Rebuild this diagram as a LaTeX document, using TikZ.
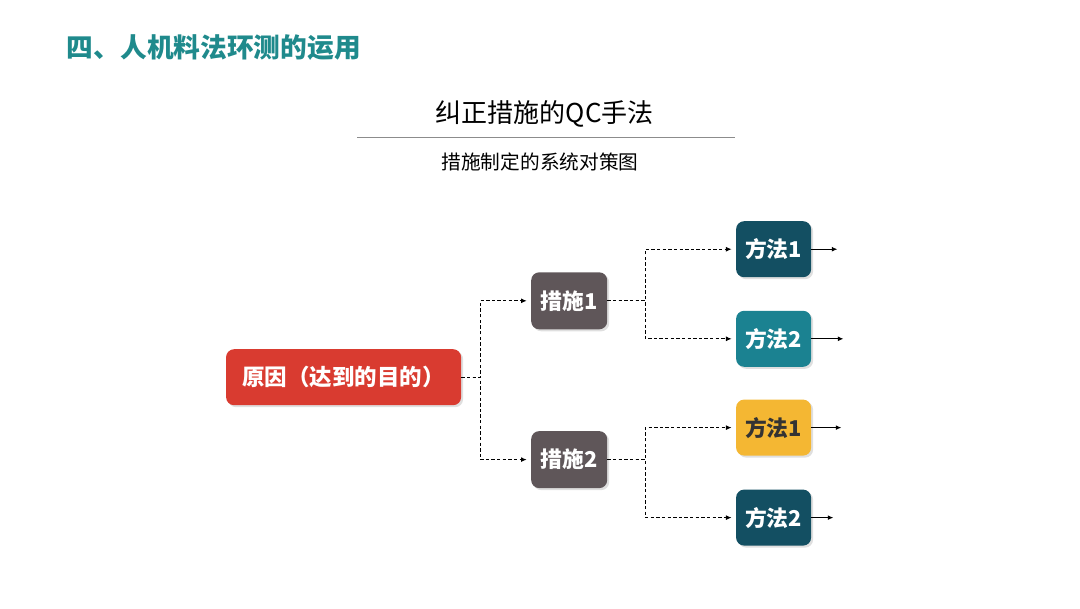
\documentclass[tikz,border=0pt]{standalone}
\usepackage{fontspec}
\setmainfont{Noto Sans CJK SC}
\usetikzlibrary{positioning,arrows.meta,shadows}
\definecolor{headteal}{HTML}{1F8A8C}
\definecolor{causered}{HTML}{D93B30}
\definecolor{stepgray}{HTML}{5F5659}
\definecolor{deepteal}{HTML}{134F62}
\definecolor{midteal}{HTML}{1B8291}
\definecolor{warmyellow}{HTML}{F4B733}
\def\fs#1{\fontsize{#1}{#1}\selectfont}

\begin{document}
\begin{tikzpicture}[on grid,auto,
  box/.style={rounded corners=0.2cm,minimum height=1.4cm,text=white,inner sep=0pt,
    drop shadow={opacity=0.25,shadow xshift=0.05cm,shadow yshift=-0.05cm}},
  cause/.style={box,fill=causered,minimum width=5.875cm,font=\fs{16}\bfseries},
  measure/.style={box,fill=stepgray,minimum width=1.9cm,minimum height=1.425cm,font=\fs{15.5}\bfseries},
  method/.style={box,minimum width=1.875cm,font=\fs{15.5}\bfseries},
  conn/.style={dashed,dash pattern=on 2.4pt off 1.6pt,line width=0.7pt,-{Latex[length=4pt,width=3.5pt]},shorten >=3pt},
  fork/.style={to path={-- ++(#1,0) |- (\tikztotarget)}},
  outarrow/.style={solid,line width=0.7pt,-{Latex[length=4pt,width=3.5pt]},shorten >=0pt}]
\useasboundingbox (0,0) rectangle (27,-15.2);

% headings
\node[anchor=west,text=headteal,font=\fs{19}\bfseries] (head) at (1.55,-1.2) {四、人机料法环测的运用};
\node[font=\fs{18.5}] (qc) at (13.62,-2.85) {纠正措施的QC手法};
\coordinate (ruleL) at (8.93,-3.43);
\coordinate (ruleR) at (18.38,-3.43);
\draw[gray!90,line width=1pt] (ruleL) -- (ruleR);
\node[font=\fs{14}] (sub) at (13.5,-4.05) {措施制定的系统对策图};

% tree
\node[cause]                     (yuan)                                  at (8.59,-9.43) {原因（达到的目的）};
\node[measure]                   (cs1)  [above right=1.91cm and 5.64cm of yuan] {措施1};
\node[measure]                   (cs2)  [below right=2.06cm and 5.64cm of yuan] {措施2};
\node[method,fill=deepteal]      (fa11) [above right=1.29cm and 5.11cm of cs1]  {方法1};
\node[method,fill=midteal]       (fa12) [below right=0.95cm and 5.11cm of cs1]  {方法2};
\node[method,fill=warmyellow,text=black!80] (fa21) [above right=0.8cm and 5.11cm of cs2] {方法1};
\node[method,fill=deepteal]      (fa22) [below right=1.45cm and 5.11cm of cs2]  {方法2};

\coordinate (o11) at ([xshift=0.65cm]fa11.east);
\coordinate (o12) at ([xshift=0.8cm]fa12.east);
\coordinate (o21) at ([xshift=0.75cm]fa21.east);
\coordinate (o22) at ([xshift=0.55cm]fa22.east);

\path[conn]
(yuan.east)	edge	[fork=0.475]	(cs1)
			edge	[fork=0.475]	(cs2)
(cs1.east)	edge	[fork=0.95]	(fa11)
			edge	[fork=0.95]	(fa12)
(cs2.east)	edge	[fork=0.95]	(fa21)
			edge	[fork=0.95]	(fa22)
(fa11)		edge	[outarrow]		(o11)
(fa12)		edge	[outarrow]		(o12)
(fa21)		edge	[outarrow]		(o21)
(fa22)		edge	[outarrow]		(o22)
;
\end{tikzpicture}
\end{document}
